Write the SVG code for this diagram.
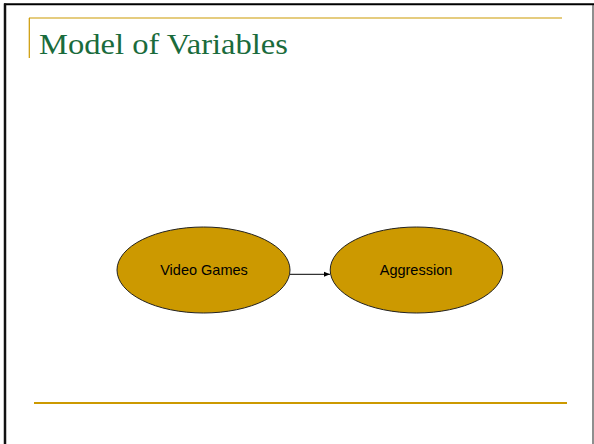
<svg xmlns="http://www.w3.org/2000/svg" width="594" height="444" viewBox="0 0 594 444">
  <defs>
    <style>
      .node { fill: #CC9900; stroke: #222; stroke-width: 1; }
      .label { font-family: "Liberation Sans", Arial, sans-serif; font-size: 14.5px; fill: #000; text-anchor: middle; }
      .gold { stroke: #CC9900; fill: none; }
    </style>
    <marker id="arrow" markerWidth="6" markerHeight="6" refX="6" refY="3" orient="auto" markerUnits="userSpaceOnUse">
      <path d="M0,0.5 L6,3 L0,5.5 Z" fill="#000"/>
    </marker>
  </defs>
  <rect width="594" height="444" fill="#fff"/>
  <g id="frame">
    <line x1="4" y1="4.3" x2="594" y2="4.3" stroke="#000" stroke-width="2"/>
    <line x1="5" y1="3.5" x2="5" y2="444" stroke="#111" stroke-width="2.5"/>
    <line x1="593" y1="5" x2="593" y2="444" stroke="#444" stroke-width="1.2"/>
  </g>
  <g id="decor">
    <line class="gold" x1="29" y1="18" x2="562" y2="18" stroke-width="1.2"/>
    <line class="gold" x1="29.3" y1="18" x2="29.3" y2="58" stroke-width="1.2"/>
    <line class="gold" x1="34" y1="403" x2="567" y2="403" stroke-width="2"/>
  </g>
  <g id="title">
    <text x="39" y="54" font-family="'Liberation Serif', 'Times New Roman', serif" font-size="29" fill="#1A6B3C" textLength="249" lengthAdjust="spacingAndGlyphs">Model of Variables</text>
  </g>
  <g id="connectors">
    <line x1="290" y1="274.3" x2="330" y2="274.3" stroke="#000" stroke-width="1" marker-end="url(#arrow)"/>
  </g>
  <g id="node-video-games">
    <ellipse class="node" cx="203.5" cy="270" rx="86.5" ry="43"/>
    <text class="label" x="204" y="275">Video Games</text>
  </g>
  <g id="node-aggression">
    <ellipse class="node" cx="416.5" cy="270" rx="86.3" ry="43"/>
    <text class="label" x="416" y="275">Aggression</text>
  </g>
</svg>
